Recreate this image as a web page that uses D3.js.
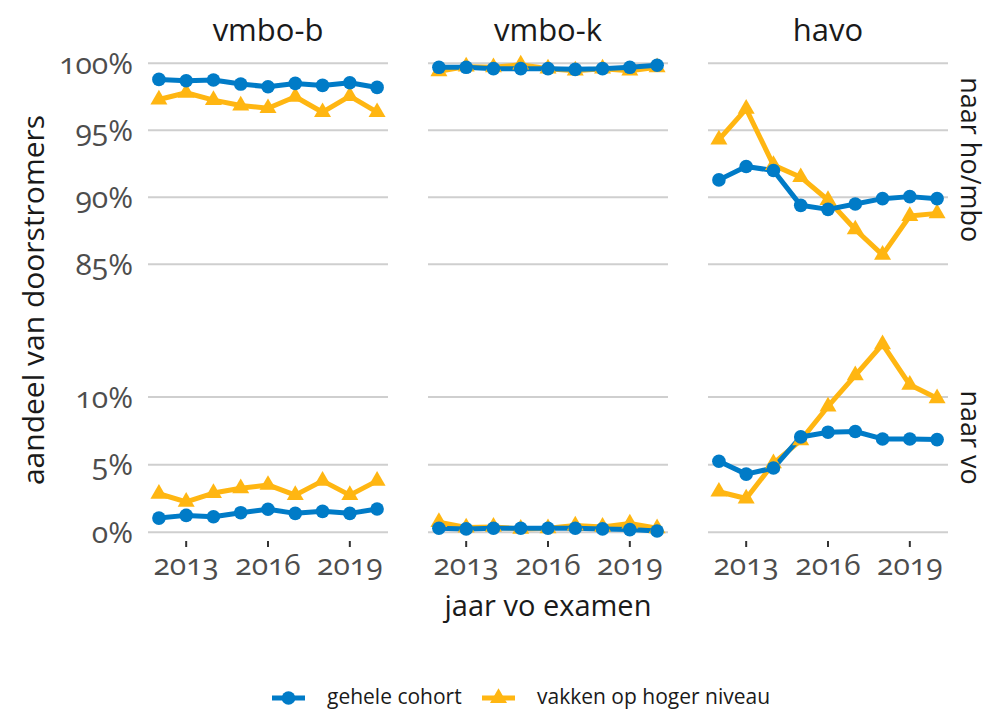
<!DOCTYPE html>
<html>
<head>
<meta charset="utf-8">
<script src="https://cdn.jsdelivr.net/npm/d3@7"></script>
<style>
  body { margin: 0; background: #fff; }
  svg text { font-family: "Open Sans", "Noto Sans", sans-serif; font-variant-numeric: oldstyle-nums; }
</style>
</head>
<body>
<div id="chart"></div>
<script>
// ===== Data =====
const years = [2012, 2013, 2014, 2015, 2016, 2017, 2018, 2019, 2020];
const columns = ["vmbo-b", "vmbo-k", "havo"];
const rows = ["naar ho/mbo", "naar vo"];
const seriesNames = ["gehele cohort", "vakken op hoger niveau"];

// naar ho/mbo (%)
const hoCohortB = [98.8, 98.7, 98.75, 98.45, 98.25, 98.5, 98.35, 98.55, 98.2];
const hoHogerB  = [97.3, 97.8, 97.25, 96.85, 96.65, 97.5, 96.35, 97.55, 96.35];
const hoCohortK = [99.7, 99.7, 99.6, 99.6, 99.6, 99.55, 99.6, 99.7, 99.85];
const hoHogerK  = [99.4, 99.75, 99.7, 99.9, 99.6, 99.45, 99.6, 99.45, 99.7];
const hoCohortH = [91.3, 92.3, 92.0, 89.4, 89.1, 89.5, 89.9, 90.05, 89.9];
const hoHogerH  = [94.3, 96.6, 92.4, 91.5, 89.8, 87.6, 85.7, 88.6, 88.8];

// naar vo (%)
const voCohortB = [1.05, 1.25, 1.15, 1.45, 1.7, 1.4, 1.55, 1.4, 1.72];
const voHogerB  = [2.85, 2.25, 2.9, 3.25, 3.5, 2.75, 3.8, 2.75, 3.8];
const voCohortK = [0.3, 0.25, 0.3, 0.3, 0.3, 0.3, 0.25, 0.2, 0.1];
const voHogerK  = [0.75, 0.35, 0.4, 0.25, 0.3, 0.5, 0.4, 0.65, 0.3];
const voCohortH = [5.25, 4.3, 4.75, 7.05, 7.4, 7.45, 6.9, 6.9, 6.85];
const voHogerH  = [3.0, 2.5, 5.1, 6.8, 9.3, 11.6, 13.9, 10.9, 9.9];

const xTicks = [2013, 2016, 2019];
const yTicksHo = [85, 90, 95, 100];
const yTicksVo = [0, 5, 10];

const panelData = [
  [[hoCohortB, hoHogerB], [hoCohortK, hoHogerK], [hoCohortH, hoHogerH]],
  [[voCohortB, voHogerB], [voCohortK, voHogerK], [voCohortH, voHogerH]],
];

// ===== Layout =====
const W = 990, H = 711;
const colX = [148, 428, 708];
const panelW = 240;
const BLUE = "#007bc7", ORANGE = "#ffb612";
const colors = [BLUE, ORANGE];
const FS = "30px";
const LW = 5;

const svg = d3.select("#chart").append("svg")
  .attr("width", W).attr("height", H);

const yScales = [
  d3.scaleLinear().domain([85, 100]).range([264.3, 63.3]),
  d3.scaleLinear().domain([0, 10]).range([532.3, 397]),
];
const yTickSets = [yTicksHo, yTicksVo];
const panelBottom = 540;

const triangle = d3.symbol().type(d3.symbolTriangle).size(125);

columns.forEach((col, ci) => {
  const x = d3.scaleLinear().domain([2011.6, 2020.4]).range([colX[ci], colX[ci] + panelW]);

  // strip title
  svg.append("text")
    .attr("x", colX[ci] + panelW / 2)
    .attr("y", 41)
    .attr("text-anchor", "middle")
    .style("font-size", "31px")
    .style("fill", "#1a1a1a")
    .text(col);

  rows.forEach((row, ri) => {
    const y = yScales[ri];
    const g = svg.append("g");

    // grid
    g.selectAll(".grid")
      .data(yTickSets[ri])
      .enter()
      .append("line")
      .attr("x1", colX[ci]).attr("x2", colX[ci] + panelW)
      .attr("y1", d => y(d)).attr("y2", d => y(d))
      .attr("stroke", "#cfcfcf")
      .attr("stroke-width", 2);

    // y labels (left col only)
    if (ci === 0) {
      g.selectAll(".ylab")
        .data(yTickSets[ri])
        .enter()
        .append("text")
        .attr("x", colX[0] - 15)
        .attr("y", d => y(d))
        .attr("dy", "0.35em")
        .attr("text-anchor", "end")
        .style("font-size", FS)
        .style("fill", "#4d4d4d")
        .text(d => d + "%");
    }

    const pair = panelData[ri][ci];
    const line = d3.line().x((d, i) => x(years[i])).y(d => y(d));

    // lines: orange beneath blue
    [1, 0].forEach(si => {
      g.append("path")
        .datum(pair[si])
        .attr("d", line)
        .attr("fill", "none")
        .attr("stroke", colors[si])
        .attr("stroke-width", LW)
        .attr("stroke-linejoin", "round");
    });

    g.selectAll(".tri")
      .data(pair[1])
      .enter()
      .append("path")
      .attr("d", triangle)
      .attr("transform", (d, i) => `translate(${x(years[i])},${y(d)})`)
      .attr("fill", ORANGE);

    g.selectAll(".dot")
      .data(pair[0])
      .enter()
      .append("circle")
      .attr("cx", (d, i) => x(years[i]))
      .attr("cy", d => y(d))
      .attr("r", 6.8)
      .attr("fill", BLUE);

    // right strip labels
    if (ci === columns.length - 1) {
      const yMid = ri === 0 ? (y(100.6) + y(85)) / 2 : (y(14.6) + y(-0.6)) / 2;
      svg.append("text")
        .attr("transform", `translate(961,${yMid}) rotate(90)`)
        .attr("text-anchor", "middle")
        .style("font-size", "27px")
        .style("fill", "#1a1a1a")
        .text(row);
    }
  });

  // x axis ticks
  svg.selectAll(null)
    .data(xTicks)
    .enter()
    .append("line")
    .attr("x1", d => x(d)).attr("x2", d => x(d))
    .attr("y1", panelBottom + 1).attr("y2", panelBottom + 7)
    .attr("stroke", "#333")
    .attr("stroke-width", 2);

  svg.selectAll(null)
    .data(xTicks)
    .enter()
    .append("text")
    .attr("x", d => x(d))
    .attr("y", 575)
    .attr("text-anchor", "middle")
    .style("font-size", FS)
    .style("fill", "#4d4d4d")
    .text(d => d);
});

// axis titles
svg.append("text")
  .attr("x", colX[1] + panelW / 2)
  .attr("y", 616)
  .attr("text-anchor", "middle")
  .style("font-size", "29px")
  .style("fill", "#1a1a1a")
  .text("jaar vo examen");

svg.append("text")
  .attr("transform", `translate(44,${300}) rotate(-90)`)
  .attr("text-anchor", "middle")
  .style("font-size", "30px")
  .style("fill", "#1a1a1a")
  .text("aandeel van doorstromers");

// legend
const legendItems = [
  { name: seriesNames[0], color: BLUE, x0: 272, tx: 327 },
  { name: seriesNames[1], color: ORANGE, x0: 482, tx: 537 },
];
const legY = 698;
const lg = svg.append("g");
legendItems.forEach((d, i) => {
  lg.append("line")
    .attr("x1", d.x0).attr("x2", d.x0 + 33)
    .attr("y1", legY).attr("y2", legY)
    .attr("stroke", d.color).attr("stroke-width", LW);
  if (i === 0) {
    lg.append("circle").attr("cx", d.x0 + 16.5).attr("cy", legY).attr("r", 6.8).attr("fill", d.color);
  } else {
    lg.append("path").attr("d", triangle).attr("transform", `translate(${d.x0 + 16.5},${legY})`).attr("fill", d.color);
  }
  lg.append("text")
    .attr("x", d.tx)
    .attr("y", legY)
    .attr("dy", "0.3em")
    .style("font-size", "21px")
    .style("fill", "#1a1a1a")
    .text(d.name);
});
</script>
</body>
</html>
